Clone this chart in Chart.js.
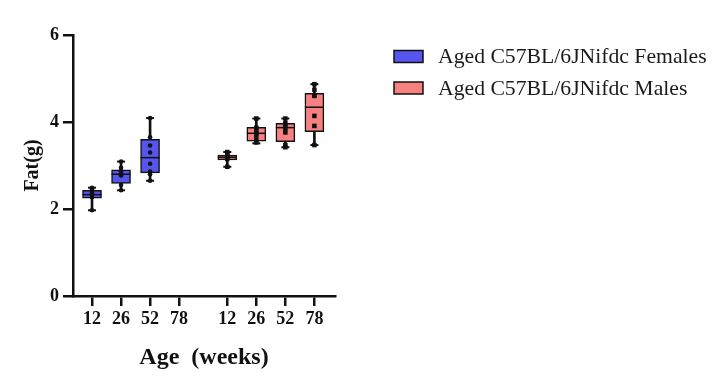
<!DOCTYPE html>
<html>
<head>
<meta charset="utf-8">
<script src="https://cdn.jsdelivr.net/npm/chart.js@4"></script>
<style>
  body { margin: 0; background: #fff; }
  #chart { display: block; }
</style>
</head>
<body>
<canvas id="chart" width="725" height="388"></canvas>
<script>
// tick labels along the x axis (two groups of ages)
const ageLabels = ['12', '26', '52', '78', '12', '26', '52', '78'];
const groupNames = ['Aged C57BL/6JNifdc Females', 'Aged C57BL/6JNifdc Males'];
const yTicks = [0, 2, 4, 6];

// box stats per age: [min, q1, median, q3, max]
const femaleStats = [
  [1.97, 2.25, 2.33, 2.43, 2.49],
  [2.43, 2.59, 2.80, 2.90, 3.09],
  [2.65, 2.83, 3.18, 3.60, 4.09],
  null
];
const maleStats = [
  [2.97, 3.13, 3.19, 3.24, 3.31],
  [3.51, 3.56, 3.74, 3.88, 4.08],
  [3.42, 3.55, 3.87, 3.97, 4.08],
  [3.47, 3.78, 4.34, 4.66, 4.87]
];

// individual animals
const femalePoints = [
  [2.49, 2.45, 2.42, 2.38, 2.33, 2.27, 1.97],
  [3.09, 2.95, 2.87, 2.82, 2.77, 2.55, 2.43],
  [4.09, 3.65, 3.46, 3.30, 3.04, 2.86, 2.80, 2.65],
  []
];
const malePoints = [
  [3.31, 3.26, 3.22, 3.18, 3.15, 2.97],
  [4.08, 3.87, 3.80, 3.74, 3.70, 3.60, 3.53],
  [4.08, 3.97, 3.93, 3.85, 3.76, 3.47, 3.42],
  [4.87, 4.74, 4.61, 4.60, 4.14, 3.91, 3.47]
];

const FEMALE = '#5656ee';
const MALE = '#f58181';
const INK = '#111';
const FONT = "'Liberation Serif', 'Times New Roman', serif";
const GAP = 0.66; // extra space between the two groups, in slot units

const slotX = s => s + (s >= 4 ? GAP : 0);
const tickPos = ageLabels.map((_, i) => slotX(i));

function buildGroup(stats, points, offset, color, pointStyle, pointRadius) {
  const boxes = [], whiskers = [], caps = [], medians = [], dots = [];
  stats.forEach((s, i) => {
    if (!s) return;
    const x = slotX(offset + i);
    boxes.push({x: x, y: [s[1], s[3]]});
    whiskers.push({x: x, y: [s[0], s[4]]});
    caps.push({x: x, y: s[0]}, {x: x, y: s[4]});
    medians.push({x: x, y: s[2]});
    points[i].forEach(v => dots.push({x: x, y: v}));
  });
  return [
    {type: 'bar', data: whiskers, grouped: false, barThickness: 2,
     backgroundColor: INK, borderWidth: 0, order: 4},
    {type: 'bar', data: boxes, grouped: false, barThickness: 19,
     backgroundColor: color, borderColor: INK, borderWidth: 1.5, borderSkipped: false, order: 3},
    {type: 'line', data: caps, showLine: false, pointStyle: 'line', pointRadius: 4,
     borderColor: INK, pointBorderWidth: 2, order: 2},
    {type: 'line', data: medians, showLine: false, pointStyle: 'line', pointRadius: 9.5,
     borderColor: INK, pointBorderWidth: 1.5, order: 2},
    {type: 'line', data: dots, showLine: false, pointStyle: pointStyle, pointRadius: pointRadius,
     backgroundColor: INK, borderColor: INK, pointBorderWidth: 0, order: 1}
  ];
}

const datasets = [
  ...buildGroup(femaleStats, femalePoints, 0, FEMALE, 'circle', 2.3),
  ...buildGroup(maleStats, malePoints, 4, MALE, 'rect', 3.2)
];

// legend drawn by hand so it can sit where the original has it
const sideLegend = {
  id: 'sideLegend',
  afterDraw(chart) {
    const ctx = chart.ctx;
    const colors = [FEMALE, MALE];
    ctx.save();
    ctx.font = '21.7px ' + FONT;
    ctx.textBaseline = 'middle';
    groupNames.forEach((name, i) => {
      const cy = 56.5 + i * 31.5;
      ctx.fillStyle = colors[i];
      ctx.fillRect(394, cy - 6, 29, 12);
      ctx.strokeStyle = INK;
      ctx.lineWidth = 1.5;
      ctx.strokeRect(394, cy - 6, 29, 12);
      ctx.fillStyle = '#1a1a1a';
      ctx.fillText(name, 438, cy + 1);
    });
    ctx.restore();
  }
};

new Chart(document.getElementById('chart'), {
  type: 'bar',
  data: {datasets: datasets},
  options: {
    responsive: false,
    animation: false,
    events: [],
    layout: {padding: {top: 35, right: 390, bottom: 0, left: 0}},
    plugins: {legend: {display: false}, tooltip: {enabled: false}},
    scales: {
      x: {
        type: 'linear',
        min: -0.655,
        max: 8.37,
        offset: false,
        afterBuildTicks: scale => { scale.ticks = tickPos.map(v => ({value: v})); },
        afterFit: scale => { scale.height = 92; },
        grid: {display: true, offset: false, drawOnChartArea: false, drawTicks: true, tickLength: 10,
               color: INK, lineWidth: 2.5},
        border: {display: true, color: INK, width: 2.5},
        ticks: {
          autoSkip: false, maxRotation: 0, padding: 3, color: INK,
          font: {family: FONT, size: 18, weight: 'bold'},
          callback: (v, i) => ageLabels[i]
        },
        title: {display: true, text: 'Age  (weeks)', color: INK,
                font: {family: FONT, size: 24, weight: 'bold'},
                padding: {top: 0, bottom: 16}}
      },
      y: {
        min: 0,
        max: 6,
        afterBuildTicks: scale => { scale.ticks = yTicks.map(v => ({value: v})); },
        afterFit: scale => { scale.width = 73; },
        grid: {display: true, drawOnChartArea: false, drawTicks: true, tickLength: 10,
               color: INK, lineWidth: 2.5},
        border: {display: true, color: INK, width: 2.5},
        ticks: {padding: 4, color: INK, font: {family: FONT, size: 18, weight: 'bold'}},
        title: {display: true, text: 'Fat(g)', color: INK,
                font: {family: FONT, size: 20, weight: 'bold'},
                padding: {top: 21, bottom: 0}}
      }
    }
  },
  plugins: [sideLegend]
});
</script>
</body>
</html>
